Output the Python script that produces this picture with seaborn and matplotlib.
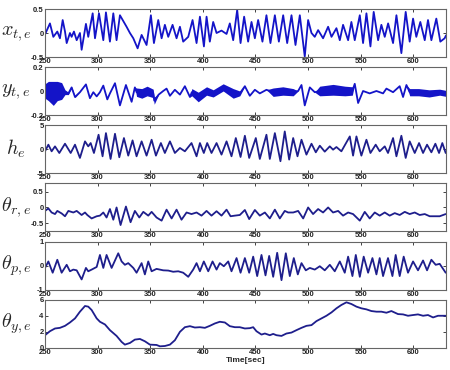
import numpy as np
import pandas as pd
import matplotlib
matplotlib.use("Agg")
import matplotlib.pyplot as plt
import seaborn as sns

# ---------------- data ----------------
x_t = [250, 254.7, 257.9, 261.7, 264.2, 266.8, 269, 270.6, 273.7, 275.3, 277.5, 280.1, 283.2, 284.8,
       288.9, 291.1, 295.3, 297.5, 301.3, 305.4, 307.9, 311.7, 314.9, 318, 321.2, 327.5, 330.7, 333.9,
       338, 341.8, 346.5, 350.6, 353.5, 357.6, 360.8, 363.9, 367.1, 371.2, 375, 378.2, 381.3, 386.1,
       390.2, 394, 397.2, 401, 403.5, 406.6, 409.8, 413, 417.7, 422.5, 425.6, 428.8, 432.6, 435.8,
       439.2, 443, 446.2, 449.4, 452.5, 456.6, 460.4, 464.2, 468.4, 472.2, 476.3, 480.1, 484.2, 488,
       492.1, 496.8, 500, 503.2, 506.3, 509.5, 514.2, 519, 522.2, 526.9, 530.1, 533.2, 538, 541.1,
       544.3, 549.1, 552.2, 555.4, 559.2, 562.3, 566.5, 569.6, 572.8, 576, 580.7, 583.9, 588.6, 592.7,
       596.5, 599.7, 602.8, 606.6, 610.8, 613.9, 617.1, 621.8, 625.6, 629.7, 631]
x_v = [-0.03, 0.2, -0.08, 0.03, -0.11, 0.27, 0.03, -0.21, 0.0, -0.08, 0.03, -0.15, 0.0, -0.35,
       0.19, -0.08, 0.41, -0.11, 0.41, -0.15, 0.43, -0.18, 0.41, -0.15, 0.37, 0.13, 0.0, -0.11,
       -0.32, -0.04, -0.25, 0.37, -0.21, 0.27, -0.11, 0.17, -0.08, 0.17, -0.11, 0.13, -0.18, -0.08,
       0.27, -0.21, 0.34, -0.28, 0.34, -0.18, 0.23, 0.0, 0.05, -0.02, 0.2, -0.15, 0.48, -0.21,
       0.34, -0.18, 0.23, -0.11, 0.27, -0.18, 0.37, -0.21, 0.37, -0.18, 0.37, -0.21, 0.37, -0.25,
       0.37, -0.49, 0.27, 0.0, -0.08, 0.06, -0.11, 0.13, -0.08, 0.1, -0.15, 0.17, -0.15, 0.23,
       -0.15, 0.37, -0.21, 0.41, -0.28, 0.44, -0.15, 0.17, -0.08, 0.2, -0.21, 0.37, -0.42, 0.44,
       -0.18, 0.3, -0.08, 0.23, -0.15, 0.27, -0.15, 0.3, -0.18, -0.11, -0.05]

y_t = [250, 253.2, 257.9, 261.7, 265.8, 269, 272.2, 275.3, 278.5, 283.2, 288.9, 292.7, 295.9, 299.1,
       302.2, 305.4, 309.2, 311.7, 316.5, 321.2, 326.9, 332.3, 335.4, 337, 342, 347, 352.8, 353.8,
       358, 362.3, 365.5, 368.7, 373.4, 378.2, 382.9, 387.7, 389.5, 395.6, 403.5, 409.8, 419.3,
       428.8, 435.1, 439.9, 444.6, 449.4, 454.1, 460.4, 466.8, 476, 485.8, 490.5, 493.7, 496.8,
       501.6, 506.3, 511, 523.7, 535, 542, 544.3, 547.5, 552.2, 558.5, 564.9, 571.2, 574.4, 580.7,
       587, 590.2, 593.4, 596.5, 605, 615, 625, 631]
y_c = [0.0, 0.0, -0.02, 0.0, 0.0, -0.01, -0.02, 0.03, -0.05, -0.01, 0.055, -0.06, -0.01, -0.045,
       -0.01, 0.045, -0.07, -0.02, 0.065, -0.12, 0.05, -0.09, 0.03, -0.01, -0.02, 0.0, -0.02, -0.08,
       -0.03, 0.0, 0.02, -0.04, 0.01, -0.03, 0.04, -0.05, -0.01, -0.05, 0.0, -0.02, 0.03,
       -0.02, -0.02, 0.04, -0.04, 0.01, -0.02, 0.01, -0.01, 0.0, -0.01, 0.0, 0.05, -0.12,
       0.03, -0.01, 0.0, 0.01, 0.0, 0.0, 0.06, -0.1, 0.0, -0.02, 0.0, -0.02, 0.02, -0.01,
       0.04, -0.05, 0.05, -0.01, -0.01, -0.02, -0.01, -0.02]
y_noise = [0.06, 0.08, 0.1, 0.08, 0.07, 0.02, 0.01, 0.005, 0.005, 0.0, 0.0, 0.0, 0.0, 0.0,
           0.0, 0.0, 0.0, 0.0, 0.0, 0.0, 0.0, 0.0, 0.0, 0.035, 0.04, 0.04, 0.035, 0.03,
           0.0, 0.0, 0.0, 0.0, 0.0, 0.0, 0.0, 0.0, 0.03, 0.04, 0.035, 0.03, 0.03,
           0.04, 0.02, 0.0, 0.0, 0.0, 0.0, 0.0, 0.035, 0.035, 0.03, 0.0, 0.0, 0.0,
           0.0, 0.0, 0.04, 0.045, 0.04, 0.035, 0.0, 0.0, 0.0, 0.0, 0.0, 0.0, 0.0, 0.0,
           0.0, 0.0, 0.0, 0.03, 0.03, 0.03, 0.025, 0.025]

h_t = [250, 253.2, 256.3, 259.5, 263.6, 269, 274.4, 278.5, 283.2, 288, 291.1, 293.4, 296.5, 300.9,
       304.7, 307.9, 312.3, 316.5, 320.6, 325, 329.1, 333.2, 337, 341.8, 346.5, 351.3, 355.4, 360.1,
       363.9, 368.7, 373.4, 378.2, 382.9, 389.2, 394, 397.2, 400.9, 404.1, 408.2, 413, 417.7, 422.5,
       427.2, 431.3, 435.8, 439.9, 444, 450.3, 454.1, 460.4, 463.6, 468.4, 473.7, 477.8, 482, 485.8,
       489.9, 493.7, 498.4, 503.2, 507.3, 511.1, 515.8, 520.6, 523.7, 526.9, 531.6, 539.6, 542.7,
       545.9, 550.6, 555.4, 559.2, 564.2, 568, 572.8, 575.9, 580.7, 583.9, 588.6, 592.7, 596.5,
       601.3, 605.4, 609.2, 613, 617.1, 620.9, 624.4, 627.5, 630.7]
h_v = [-0.48, 0.9, -0.48, 0.55, -0.83, 1.1, -0.83, 0.9, -1.86, 1.59, 0.55, 1.24, -0.83, 2.97,
       -1.52, 3.31, -2.07, 3.17, -1.72, 2.28, -1.38, 1.79, -1.52, 1.59, -1.38, 1.93, -1.38, 1.24,
       -0.83, 1.59, -0.83, 0.21, -0.48, 1.24, -1.52, 1.24, -0.83, 1.24, -0.83, 1.24, -1.17, 1.59,
       -1.52, 2.28, -1.66, 2.76, -1.86, 2.28, -2.07, 2.97, -2.07, 3.31, -2.55, 3.66, -2.21, 2.28,
       -1.52, 1.93, -1.17, 1.1, -0.69, 0.69, -0.55, 0.55, -0.14, 0.41, -0.48, 2.62, -1.38,
       2.62, -1.38, 1.93, -0.83, 0.9, -0.48, 0.55, -0.83, 2.28, -1.52, 2.76, -1.86, 1.59,
       -0.83, 1.24, -0.83, 0.9, -0.69, 1.1, -0.83, 1.24, -0.83]

r_t = [250, 253.2, 256.3, 259.5, 261.7, 265.8, 269, 272.2, 276.9, 280.1, 284.8, 288, 290.2, 294.3,
       299.1, 302.2, 305.4, 308.5, 311.7, 314.9, 318, 321.8, 326.9, 331.3, 335.4, 339.6, 343.4,
       348.1, 351.3, 356, 360.8, 365.5, 370.3, 375, 379.7, 384.5, 389.2, 394, 398.7, 403.5, 408.2,
       413, 417.7, 422.5, 426.3, 430.4, 435.1, 439.9, 444, 449.4, 454.1, 458.9, 463.6, 468.4,
       473.1, 477.8, 481, 485.8, 490.5, 495.3, 500, 504.7, 509.5, 514.2, 519, 523.7, 528.5, 533.2,
       538, 542.7, 549.1, 553.8, 558.5, 563.3, 568, 572.8, 577.5, 582.3, 587, 591.8, 596.5, 601.3,
       606, 610.8, 615.5, 620.3, 625, 630.7]
r_v = [-0.11, -0.03, -0.16, -0.21, -0.11, -0.19, -0.28, -0.11, -0.16, -0.11, -0.24, -0.16, -0.24, -0.35,
       -0.28, -0.26, -0.16, -0.32, -0.05, -0.39, 0.0, -0.56, 0.03, -0.47, -0.11, -0.32, -0.14,
       -0.26, -0.14, -0.32, -0.42, -0.07, -0.35, -0.07, -0.39, -0.16, -0.21, -0.16, -0.26, -0.11, -0.26,
       -0.12, -0.26, -0.07, -0.28, -0.26, -0.24, -0.08, -0.37, -0.08, -0.26, -0.16, -0.35, -0.07,
       -0.35, -0.11, -0.16, -0.16, -0.11, -0.35, 0.0, -0.21, -0.05, -0.16, 0.0, -0.16, -0.11, -0.26,
       -0.16, -0.21, -0.42, -0.14, -0.35, -0.16, -0.26, -0.16, -0.26, -0.18, -0.24, -0.14, -0.21, -0.16,
       -0.24, -0.21, -0.28, -0.28, -0.28, -0.21]

p_t = [250, 253.2, 257.3, 261.7, 265.8, 270.6, 273.7, 276.9, 280.1, 284.8, 288.9, 291.1, 294.3, 299.1,
       302.2, 305.4, 308.5, 313.3, 319.6, 322.8, 325.9, 329.1, 333.9, 337, 341.8, 344.9, 348.1, 351.3,
       356, 362.3, 367.1, 371.8, 376.6, 381.3, 386.1, 390.8, 394, 397.2, 400.9, 405.1, 409.2, 413,
       416.1, 419.9, 424.1, 427.2, 432, 435.8, 439.9, 444, 447.8, 451.6, 455.7, 459.5, 463, 466.8,
       470.6, 474.7, 478.8, 482.6, 486.4, 490.2, 493.7, 497.8, 501.6, 506.3, 511.1, 515.8, 520.6,
       525.3, 530.1, 534.8, 538, 542.1, 545.3, 549.1, 552.8, 557, 561.1, 564.9, 568, 571.2, 575.9,
       580.1, 583.2, 587, 590.8, 594.9, 599.7, 604.4, 609.2, 613, 617.1, 621.2, 625, 630.7]
p_v = [-0.08, 0.19, -0.28, 0.26, -0.28, 0.05, -0.22, -0.15, -0.18, -0.56, -0.08, -0.22, -0.15, -0.04,
       0.46, -0.08, 0.46, -0.08, 0.53, 0.19, 0.05, 0.12, -0.08, -0.28, 0.12, -0.35, 0.19, -0.22,
       -0.12, -0.18, -0.19, -0.24, -0.22, -0.28, -0.45, -0.15, 0.12, -0.22, 0.19, -0.22, 0.19, -0.15,
       0.12, -0.01, 0.19, -0.22, 0.33, -0.28, 0.33, -0.28, 0.39, -0.42, 0.46, -0.39, 0.42, -0.45,
       0.55, -0.59, 0.53, -0.42, 0.33, -0.35, 0.12, -0.18, -0.08, -0.15, -0.01, -0.18, 0.05,
       -0.22, 0.19, -0.28, 0.39, -0.42, 0.46, -0.45, 0.39, -0.28, 0.33, -0.35, 0.33, -0.42, 0.33,
       -0.42, 0.46, -0.42, 0.39, -0.28, 0.19, -0.18, 0.23, -0.18, 0.26, 0.05, 0.09, -0.28]

yaw_t = [250, 254.7, 259.5, 264.2, 269, 273.7, 278.5, 283.2, 288, 291.1, 294.3, 299.1, 302.2, 307,
         311.7, 318, 322.8, 325.9, 330.7, 335.4, 340.2, 344.9, 349.7, 356, 359.2, 363.9, 368.7, 373.4,
         378.2, 382.9, 387.7, 392.4, 397.2, 401.9, 406.6, 411.4, 416.1, 420.9, 425.6, 430.4, 435.1,
         439.9, 444.6, 447.8, 450.9, 455.7, 458.9, 463.6, 466.8, 469.9, 474.7, 479.4, 484.2, 488.9,
         493.7, 498.4, 503.2, 507.9, 512.7, 517.4, 522.2, 526.9, 531.6, 536.4, 541.1, 545.9, 550.6,
         555.4, 560.1, 564.9, 569.6, 574.4, 579.1, 585.4, 590.2, 594.9, 599.7, 604.4, 609.2, 613.9,
         618.7, 623.4, 630.7]
yaw_v = [1.6, 2.1, 2.44, 2.52, 2.77, 3.19, 3.7, 4.54, 5.25, 5.17, 4.75, 3.7, 3.28, 2.94,
         2.23, 1.51, 0.76, 0.42, 0.63, 1.05, 1.13, 0.84, 0.42, 0.38, 0.21, 0.25, 0.42, 0.97,
         2.02, 2.6, 2.73, 2.56, 2.6, 2.52, 2.77, 3.07, 3.28, 3.19, 2.73, 2.6, 2.6,
         2.44, 2.48, 2.6, 2.1, 1.68, 1.81, 1.6, 1.76, 1.6, 1.51, 1.81, 1.93, 2.23,
         2.52, 2.77, 2.86, 3.36, 3.7, 4.03, 4.45, 4.96, 5.38, 5.71, 5.5, 5.17, 4.96,
         4.83, 4.62, 4.54, 4.54, 4.41, 4.62, 4.24, 4.2, 4.03, 4.12, 4.2, 4.03, 4.12,
         3.82, 4.03, 4.03]

x_ticks = [250, 300, 350, 400, 450, 500, 550, 600]
labels = [r"$x_{t,e}$", r"$y_{t,e}$", r"$h_{e}$", r"$\theta_{r,e}$", r"$\theta_{p,e}$", r"$\theta_{y,e}$"]
ylims = [(-0.5, 0.5), (-0.2, 0.2), (-5, 5), (-0.75, 0.78), (-1, 1), (0, 6)]
yticks = [[-0.5, 0, 0.5], [-0.2, 0, 0.2], [-5, 0, 5], [-0.5, 0, 0.5], [-1, 0, 1], [0, 2, 4, 6]]
ytick_labels = [["-0.5", "0", "0.5"], ["-0.2", "0", "0.2"], ["-5", "0", "5"],
                ["-0.5", "0", "0.5"], ["-1", "0", "1"], ["0", "2", "4", "6"]]

# ---------------- style ----------------
sns.set_theme(style="ticks")
plt.rcParams["font.family"] = ["Liberation Sans", "DejaVu Sans"]
plt.rcParams["mathtext.fontset"] = "cm"

fig = plt.figure(figsize=(4.5, 3.7), dpi=100)
fig.patch.set_facecolor("white")

tops = [9, 67, 125, 183, 242, 300]
h_px = 48
left, right = 45, 446
axes = []
for top in tops:
    ax = fig.add_axes([left / 450, 1 - (top + h_px) / 370, (right - left) / 450, h_px / 370])
    axes.append(ax)

series = [
    (x_t, x_v, "#1414c8"),
    (y_t, y_c, "#1414c8"),
    (h_t, h_v, "#1e1e8c"),
    (r_t, r_v, "#1e1e8c"),
    (p_t, p_v, "#1e1e8c"),
    (yaw_t, yaw_v, "#1e1e8c"),
]

for i, ax in enumerate(axes):
    t, v, col = series[i]
    df = pd.DataFrame({"t": t, "v": v})
    if i == 1:
        c = np.array(y_c)
        n = np.array(y_noise)
        ax.fill_between(y_t, c - n, c + n, color=col, linewidth=0, alpha=1.0)
    sns.lineplot(data=df, x="t", y="v", ax=ax, color=col, linewidth=1.3,
                 estimator=None, sort=False, solid_joinstyle="round")
    ax.set_xlim(250, 631)
    ax.set_ylim(*ylims[i])
    ax.set_xticks(x_ticks)
    ax.set_xticklabels([str(x) for x in x_ticks])
    ax.set_yticks(yticks[i])
    ax.set_yticklabels(ytick_labels[i])
    ax.tick_params(direction="in", length=2.5, width=0.6, top=True, right=True,
                   labelsize=5.5, pad=1.0, colors="#222222")
    for lab in ax.get_xticklabels() + ax.get_yticklabels():
        lab.set_fontweight("bold")
    for sp in ax.spines.values():
        sp.set_color("#666666")
        sp.set_linewidth(0.8)
    ax.set_xlabel("")
    ax.set_ylabel(labels[i], rotation=0, fontsize=14.5, ha="center", va="center")
    ax.yaxis.set_label_coords(-0.072, 0.5)
    ax.set_facecolor("white")

axes[-1].set_xlabel("Time[sec]", fontsize=6, fontweight="bold", labelpad=0.5)

fig.savefig("out.png", dpi=100, facecolor="white")
